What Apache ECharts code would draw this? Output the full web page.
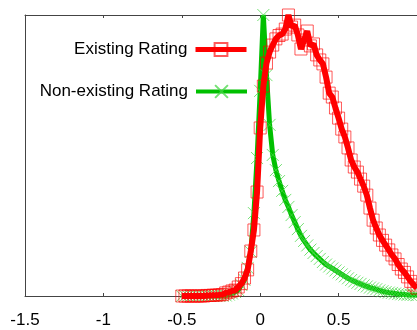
<!DOCTYPE html>
<html>
<head>
<meta charset="utf-8">
<script src="https://cdn.jsdelivr.net/npm/echarts@6/dist/echarts.min.js"></script>
<style>html,body{margin:0;padding:0;background:#fff;}#c{width:417px;height:330px;}</style>
</head>
<body>
<div id="c"></div>
<script>
const xValues = [-0.5,-0.48,-0.46,-0.44,-0.42,-0.4,-0.38,-0.36,-0.34,-0.32,-0.3,-0.28,-0.26,-0.24,-0.22,-0.2,-0.18,-0.16,-0.14,-0.12,-0.1,-0.08,-0.06,-0.04,-0.02,0,0.02,0.04,0.06,0.08,0.1,0.12,0.14,0.16,0.18,0.2,0.22,0.24,0.26,0.28,0.3,0.32,0.34,0.36,0.38,0.4,0.42,0.44,0.46,0.48,0.5,0.52,0.54,0.56,0.58,0.6,0.62,0.64,0.66,0.68,0.7,0.72,0.74,0.76,0.78,0.8,0.82,0.84,0.86,0.88,0.9,0.92,0.94,0.96,0.98,1.0];
const existingRating = [0,0,0,0,0,0,0,0,0.002,0.002,0.003,0.003,0.004,0.005,0.011,0.014,0.018,0.021,0.032,0.044,0.064,0.093,0.160,0.235,0.370,0.598,0.747,0.829,0.868,0.893,0.915,0.927,0.932,0.950,1.000,0.957,0.964,0.929,0.879,0.911,0.943,0.890,0.897,0.858,0.840,0.826,0.779,0.722,0.708,0.669,0.633,0.594,0.566,0.527,0.484,0.459,0.441,0.416,0.391,0.359,0.313,0.270,0.242,0.217,0.198,0.181,0.164,0.146,0.132,0.112,0.096,0.084,0.068,0.052,0.039,0.028];
const nonExistingRating = [0,0,0,0,0,0,0,0,0,0,0,0,0,0.001,0.002,0.005,0.009,0.014,0.021,0.039,0.057,0.100,0.157,0.295,0.491,0.730,1.000,0.786,0.609,0.502,0.448,0.409,0.374,0.342,0.317,0.288,0.263,0.238,0.214,0.196,0.180,0.165,0.153,0.142,0.132,0.121,0.112,0.105,0.098,0.091,0.084,0.077,0.070,0.063,0.057,0.052,0.047,0.043,0.038,0.034,0.030,0.027,0.024,0.020,0.017,0.014,0.012,0.011,0.009,0.007,0.006,0.005,0.004,0.004,0.004,0.003];
const seriesNames = ['Existing Rating','Non-existing Rating'];
const xTicks = {min:-1.5, max:1, interval:0.5};

const pairs = (ys) => xValues.map((x,i)=>[x, ys[i]]);
const FONT = 'Liberation Sans, Arial, sans-serif';
const axisColor = '#444';

const chart = echarts.init(document.getElementById('c'), null, {renderer:'canvas'});
const legendBase = {
  orient:'vertical', right:168, align:'right', itemWidth:51, itemHeight:16,
  textStyle:{fontSize:17, fontFamily:FONT, color:'#000', padding:[0,3,0,0]}, padding:0
};
chart.setOption({
  animation:false,
  backgroundColor:'#fff',
  grid:{left:25, top:15, right:-3, bottom:34, containLabel:false},
  legend:[
    Object.assign({}, legendBase, {top:41, data:[seriesNames[0]], lineStyle:{width:5}}),
    Object.assign({}, legendBase, {top:83, data:[seriesNames[1]], lineStyle:{width:4}})
  ],
  xAxis:[
    {type:'value', position:'bottom', min:xTicks.min, max:xTicks.max, interval:xTicks.interval,
     axisLine:{show:true, onZero:false, lineStyle:{color:axisColor, width:1}},
     axisTick:{show:true, inside:true, length:3, lineStyle:{color:axisColor}},
     axisLabel:{show:true, fontSize:17, fontFamily:FONT, color:'#000', margin:16, showMaxLabel:false},
     splitLine:{show:false}},
    {type:'value', position:'top', min:xTicks.min, max:xTicks.max, interval:xTicks.interval,
     axisLine:{show:true, onZero:false, lineStyle:{color:axisColor, width:1}},
     axisTick:{show:true, inside:true, length:3, lineStyle:{color:axisColor}},
     axisLabel:{show:false}, splitLine:{show:false}}
  ],
  yAxis:{type:'value', min:0, max:1, position:'left',
     axisLine:{show:true, onZero:false, lineStyle:{color:axisColor, width:1}},
     axisTick:{show:false}, axisLabel:{show:false}, splitLine:{show:false}},
  series:[
    {name:seriesNames[1], type:'line', data:pairs(nonExistingRating), clip:false,
     symbol:'path://M0,0L10,10M10,0L0,10', symbolSize:12, showAllSymbol:true,
     lineStyle:{color:'#00c000', width:5},
     itemStyle:{color:'rgba(0,0,0,0)', borderColor:'rgba(70,215,70,0.75)', borderWidth:1},
     z:2},
    {name:seriesNames[0], type:'line', data:pairs(existingRating), clip:false,
     symbol:'rect', symbolSize:12, showAllSymbol:true,
     lineStyle:{color:'#ff0000', width:6},
     itemStyle:{color:'rgba(0,0,0,0)', borderColor:'rgba(255,0,0,0.65)', borderWidth:1},
     z:3}
  ]
});
</script>
</body>
</html>
